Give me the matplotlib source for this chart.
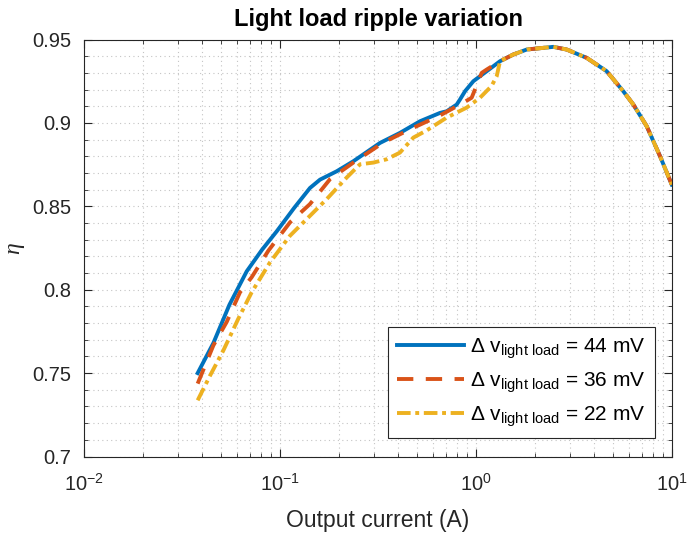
import numpy as np
import matplotlib
matplotlib.use("Agg")
import matplotlib.pyplot as plt
from matplotlib.ticker import MultipleLocator, LogLocator, NullFormatter

plt.rcParams['font.family'] = ['Liberation Sans', 'DejaVu Sans']
plt.rcParams['mathtext.fontset'] = 'custom'
plt.rcParams['mathtext.rm'] = 'Liberation Sans'
plt.rcParams['mathtext.it'] = 'Liberation Sans:italic'
plt.rcParams['mathtext.bf'] = 'Liberation Sans:bold'

# values (output current in A, efficiency)
i44 = [0.038, 0.0457, 0.0552, 0.0676, 0.081, 0.0962, 0.118, 0.1422, 0.160, 0.1946,
       0.2365, 0.3236, 0.409, 0.518, 0.655, 0.709, 0.797, 0.828, 0.879, 0.969,
       1.134, 1.326, 1.549, 1.814, 2.48, 2.90, 3.67, 4.64, 5.64, 6.35, 7.43, 8.69, 9.97]
eta44 = [0.750, 0.768, 0.791, 0.811, 0.824, 0.835, 0.849, 0.861, 0.866, 0.871,
         0.877, 0.888, 0.894, 0.901, 0.906, 0.907, 0.911, 0.914, 0.919, 0.925,
         0.931, 0.937, 0.941, 0.944, 0.9456, 0.944, 0.939, 0.931, 0.919, 0.911, 0.898, 0.880, 0.863]

i36 = [0.038, 0.0457, 0.0534, 0.0625, 0.0717, 0.0872, 0.1125, 0.142, 0.180, 0.2365,
       0.336, 0.461, 0.655, 0.861, 0.950, 1.069, 1.134, 1.326, 1.549, 1.814,
       2.48, 2.90, 3.67, 4.64, 5.64, 6.35, 7.43, 8.69, 9.97]
eta36 = [0.7437, 0.7666, 0.7806, 0.7985, 0.8075, 0.8234, 0.8404, 0.8513, 0.8663, 0.8762,
         0.8882, 0.8962, 0.9045, 0.9121, 0.9151, 0.930, 0.932, 0.937, 0.941, 0.944,
         0.9456, 0.944, 0.939, 0.931, 0.919, 0.911, 0.898, 0.880, 0.863]

i22 = [0.038, 0.0440, 0.0514, 0.0612, 0.0717, 0.0889, 0.1125, 0.1367, 0.173, 0.219,
       0.256, 0.299, 0.350, 0.409, 0.479, 0.560, 0.709, 0.897, 1.048, 1.20,
       1.275, 1.326, 1.549, 1.814, 2.48, 2.90, 3.67, 4.64, 5.64, 6.35, 7.43, 8.69, 9.97]
eta22 = [0.7337, 0.7486, 0.7636, 0.7825, 0.7985, 0.8164, 0.8324, 0.8423, 0.8543, 0.8673,
         0.8752, 0.8762, 0.8782, 0.8822, 0.8912, 0.8955, 0.9032, 0.9092, 0.9151, 0.9221,
         0.928, 0.937, 0.941, 0.944, 0.9456, 0.944, 0.939, 0.931, 0.919, 0.911, 0.898, 0.880, 0.863]

labels = [r'Δ v$_{\mathrm{light\ load}}$ = 44 mV',
          r'Δ v$_{\mathrm{light\ load}}$ = 36 mV',
          r'Δ v$_{\mathrm{light\ load}}$ = 22 mV']

fig = plt.figure(figsize=(6.87, 5.34), dpi=100)
ax = fig.add_axes([0.1223, 0.1451, 0.8559, 0.7809])

ax.plot(i44, eta44, color='#0072BD', lw=2.8, label=labels[0])
ax.plot(i36, eta36, color='#D95319', lw=2.8, dashes=(4.2, 3.2), label=labels[1])
ax.plot(i22, eta22, color='#EDB120', lw=2.8, dashes=(3.5, 1.2, 1.0, 1.2), label=labels[2])

ax.set_xscale('log')
ax.set_xlim(1e-2, 1e1)
ax.set_ylim(0.7, 0.95)
ax.set_yticks([0.7, 0.75, 0.8, 0.85, 0.9, 0.95])
ax.set_yticklabels(['0.7', '0.75', '0.8', '0.85', '0.9', '0.95'])
ax.yaxis.set_minor_locator(MultipleLocator(0.01))
ax.xaxis.set_minor_locator(LogLocator(base=10, subs=np.arange(2, 10)))
ax.xaxis.set_minor_formatter(NullFormatter())

ax.grid(True, which='both', linestyle=(0, (1, 3)), color='#c4c4c4', lw=0.8)
ax.set_axisbelow(True)
ax.tick_params(which='both', direction='in', top=True, right=True, labelsize=14.5, colors='#262626')
ax.tick_params(which='major', length=6, width=0.8)
ax.tick_params(which='minor', length=3, width=0.6)
ax.tick_params(axis='x', which='major', pad=12)
ax.tick_params(axis='y', which='major', pad=9)
for s in ax.spines.values():
    s.set_color('#262626')
    s.set_linewidth(0.8)

ax.set_title('Light load ripple variation', fontsize=17, fontweight='bold', pad=10)
ax.set_xlabel('Output current (A)', fontsize=16.5, color='#262626', labelpad=10)
ax.set_ylabel('η', fontsize=17, family='Liberation Serif', style='italic', color='#262626', labelpad=6)

leg = ax.legend(loc='lower right', bbox_to_anchor=(0.971, 0.044), borderaxespad=0,
                fontsize=15, handlelength=3.2, fancybox=False, framealpha=1,
                edgecolor='#262626', labelspacing=0.45, borderpad=0.45, handletextpad=0.3)
leg.get_frame().set_linewidth(0.8)

fig.savefig('out.png', dpi=100)
